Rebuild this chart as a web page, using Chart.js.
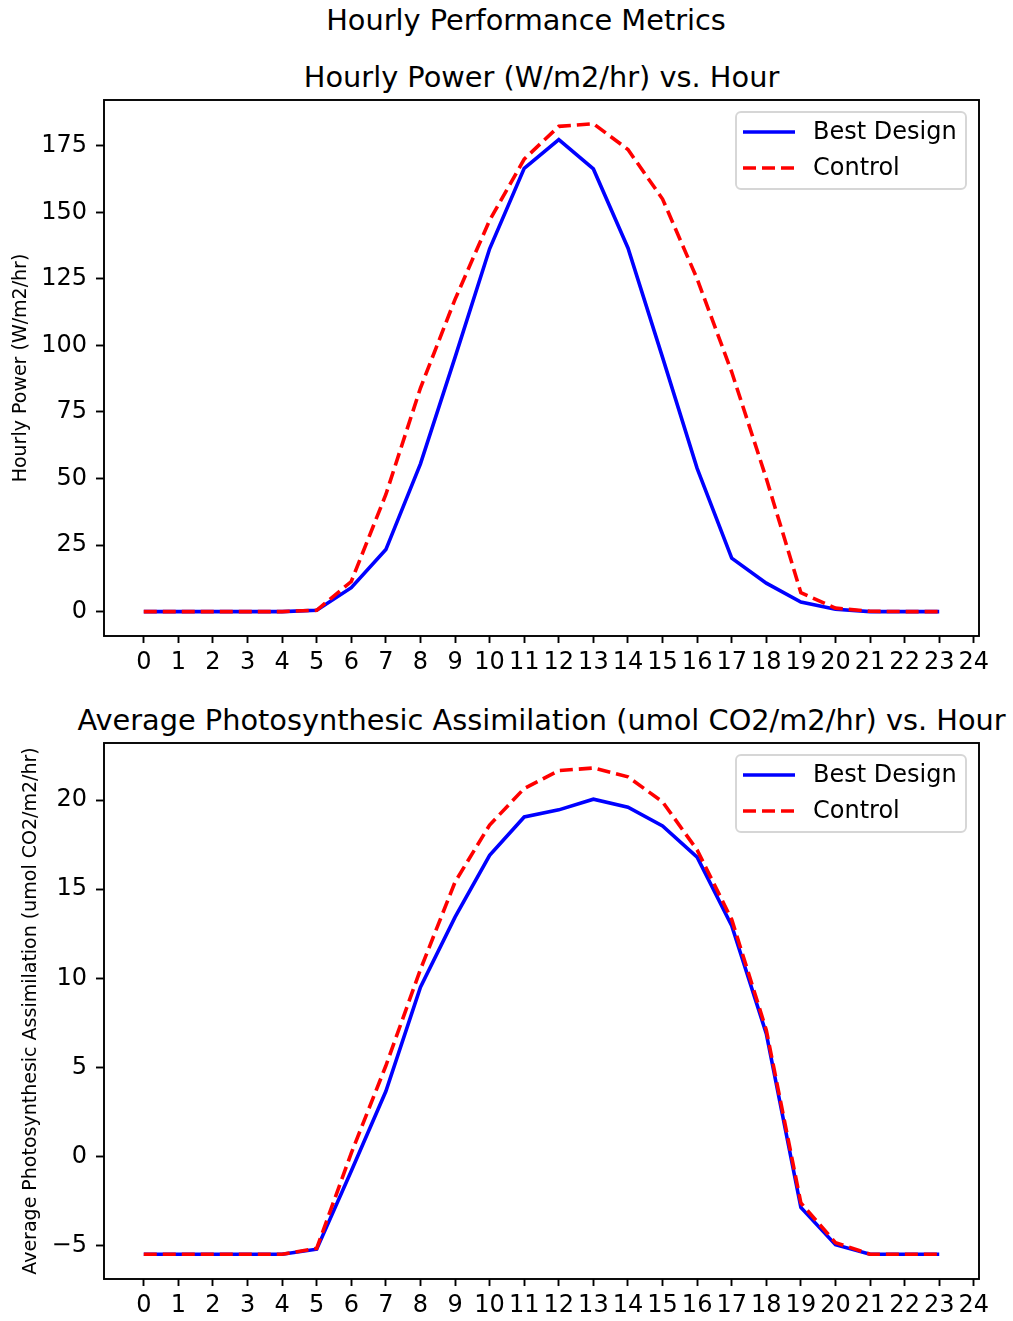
<!DOCTYPE html>
<html>
<head>
<meta charset="utf-8">
<script src="https://cdn.jsdelivr.net/npm/chart.js@4.4.1/dist/chart.umd.min.js"></script>
<style>
	body { margin: 0; background: #fff; }
	#page { position: relative; width: 1013px; height: 1321px; overflow: hidden; font-family: 'DejaVu Sans', sans-serif; }
	.ttl { position: absolute; transform: translateX(-50%); text-align: center; font-size: 28.8px; line-height: 34px; color: #000; white-space: nowrap; }
	.box { position: absolute; left: 0; width: 1013px; }
</style>
</head>
<body>
<div id="page">
	<div class="ttl" style="left:526px; top:3px;">Hourly Performance Metrics</div>
	<div class="ttl" style="left:541.5px; top:60px;">Hourly Power (W/m2/hr) vs. Hour</div>
	<div class="box" style="top:90px; height:600px;"><canvas id="powerChart"></canvas></div>
	<div class="ttl" style="left:541.5px; top:703px;">Average Photosynthesic Assimilation (umol CO2/m2/hr) vs. Hour</div>
	<div class="box" style="top:733px; height:588px;"><canvas id="assimChart"></canvas></div>
</div>
<script>
const hours = [0, 1, 2, 3, 4, 5, 6, 7, 8, 9, 10, 11, 12, 13, 14, 15, 16, 17, 18, 19, 20, 21, 22, 23]
const hourTicks = [0, 1, 2, 3, 4, 5, 6, 7, 8, 9, 10, 11, 12, 13, 14, 15, 16, 17, 18, 19, 20, 21, 22, 23, 24]

// hourly power, W/m2/hr
const powerBest = [0, 0, 0, 0, 0, 0.5, 9, 23.3, 55.5, 95.5, 136.3, 166.5, 177.3, 166.3, 136.6, 95.5, 53.8, 20.1, 10.7, 3.6, 0.9, 0, 0, 0]
const powerControl = [0, 0, 0, 0, 0, 0.5, 11.3, 44, 84, 117.3, 147, 170, 182.3, 183.3, 173.6, 155, 125, 90, 50, 7.1, 1.3, 0.1, 0, 0]
const powerTicks = [0, 25, 50, 75, 100, 125, 150, 175]

// average photosynthetic assimilation, umol CO2/m2/hr
const assimBest = [-5.47, -5.47, -5.47, -5.47, -5.47, -5.19, -0.8, 3.67, 9.5, 13.43, 16.9, 19.05, 19.45, 20.05, 19.6, 18.55, 16.8, 12.95, 6.9, -2.85, -4.94, -5.47, -5.47, -5.47]
const assimControl = [-5.47, -5.47, -5.47, -5.47, -5.47, -5.14, 0.2, 5.1, 10.5, 15.4, 18.6, 20.65, 21.65, 21.8, 21.3, 19.9, 17.2, 13.3, 7.1, -2.6, -4.82, -5.47, -5.47, -5.47]
const assimTicks = [-5, 0, 5, 10, 15, 20]

const FONT = "'DejaVu Sans', sans-serif"

function toPoints(values) {
	return hours.map((h, i) => ({ x: h, y: values[i] }))
}

function fixTicks(list) {
	return (scale) => {
		scale.ticks = list.map(v => ({ value: v }))
	}
}

// axes frame (all four spines)
const framePlugin = {
	id: 'frame',
	afterDatasetsDraw(chart) {
		const { ctx, chartArea: a } = chart
		ctx.save()
		ctx.strokeStyle = '#000'
		ctx.lineWidth = 1.9
		ctx.strokeRect(a.left, a.top, a.right - a.left, a.bottom - a.top)
		ctx.restore()
	},
}

// matplotlib-like legend box in the upper right of the axes
const boxLegend = {
	id: 'boxLegend',
	afterDraw(chart) {
		const { ctx, chartArea: a } = chart
		const w = 230, h = 77
		const left = a.right - 13 - w, top = a.top + 12
		ctx.save()
		ctx.beginPath()
		ctx.roundRect(left, top, w, h, 5)
		ctx.fillStyle = 'rgba(255,255,255,0.8)'
		ctx.fill()
		ctx.strokeStyle = '#d6d6d6'
		ctx.lineWidth = 1.9
		ctx.stroke()
		chart.data.datasets.forEach((ds, i) => {
			const y = top + 20 + i * 36
			ctx.beginPath()
			ctx.setLineDash(ds.borderDash || [])
			ctx.strokeStyle = ds.borderColor
			ctx.lineWidth = ds.borderWidth
			ctx.moveTo(left + 7, y)
			ctx.lineTo(left + 59, y)
			ctx.stroke()
			ctx.setLineDash([])
			ctx.fillStyle = '#000'
			ctx.font = '24px ' + FONT
			ctx.textBaseline = 'middle'
			ctx.fillText(ds.label, left + 77, y + 1)
		})
		ctx.restore()
	},
}

function makeChart(el, best, control, yMin, yMax, yTicks, yLabel, titlePad) {
	return new Chart(el, {
		type: 'line',
		data: {
			datasets: [
				{
					label: 'Best Design',
					data: toPoints(best),
					borderColor: '#0000ff',
					borderWidth: 3.6,
					pointRadius: 0,
					tension: 0,
					order: 1,
				},
				{
					label: 'Control',
					data: toPoints(control),
					borderColor: '#ff0000',
					borderWidth: 3.6,
					borderDash: [13, 6],
					pointRadius: 0,
					tension: 0,
					order: 0,
				},
			],
		},
		options: {
			responsive: true,
			maintainAspectRatio: false,
			animation: false,
			layout: { padding: { top: 10, right: 34, bottom: 0, left: 0 } },
			plugins: {
				legend: { display: false },
				tooltip: { enabled: false },
				title: { display: false },
			},
			scales: {
				x: {
					type: 'linear',
					min: -1.15,
					max: 24.15,
					afterBuildTicks: fixTicks(hourTicks),
					afterFit: (s) => {
						s.height = el.parentNode.clientHeight - 546
						s.paddingLeft = 0
						s.paddingRight = 0
					},
					grid: { drawOnChartArea: false, drawTicks: true, tickLength: 7, tickWidth: 1.9, tickColor: '#000' },
					border: { display: false },
					ticks: { color: '#000', font: { family: FONT, size: 24 }, padding: 5, maxRotation: 0, autoSkip: false },
				},
				y: {
					type: 'linear',
					min: yMin,
					max: yMax,
					afterBuildTicks: fixTicks(yTicks),
					afterFit: (s) => {
						s.width = 104
						s.paddingTop = 0
						s.paddingBottom = 0
					},
					grid: { drawOnChartArea: false, drawTicks: true, tickLength: 8, tickWidth: 1.9, tickColor: '#000' },
					border: { display: false },
					ticks: {
						color: '#000',
						font: { family: FONT, size: 24 },
						padding: 9,
						callback: (v) => String(v).replace('-', '\u2212'),
					},
					title: {
						display: true,
						text: yLabel,
						color: '#000',
						font: { family: FONT, size: 19 },
						padding: { top: titlePad, bottom: 0 },
					},
				},
			},
		},
		plugins: [framePlugin, boxLegend],
	})
}

makeChart(document.getElementById('powerChart'), powerBest, powerControl, -9.17, 192.2, powerTicks, 'Hourly Power (W/m2/hr)', 9.5)
makeChart(document.getElementById('assimChart'), assimBest, assimControl, -6.86, 23.2, assimTicks, 'Average Photosynthesic Assimilation (umol CO2/m2/hr)', 19.5)
</script>
</body>
</html>
